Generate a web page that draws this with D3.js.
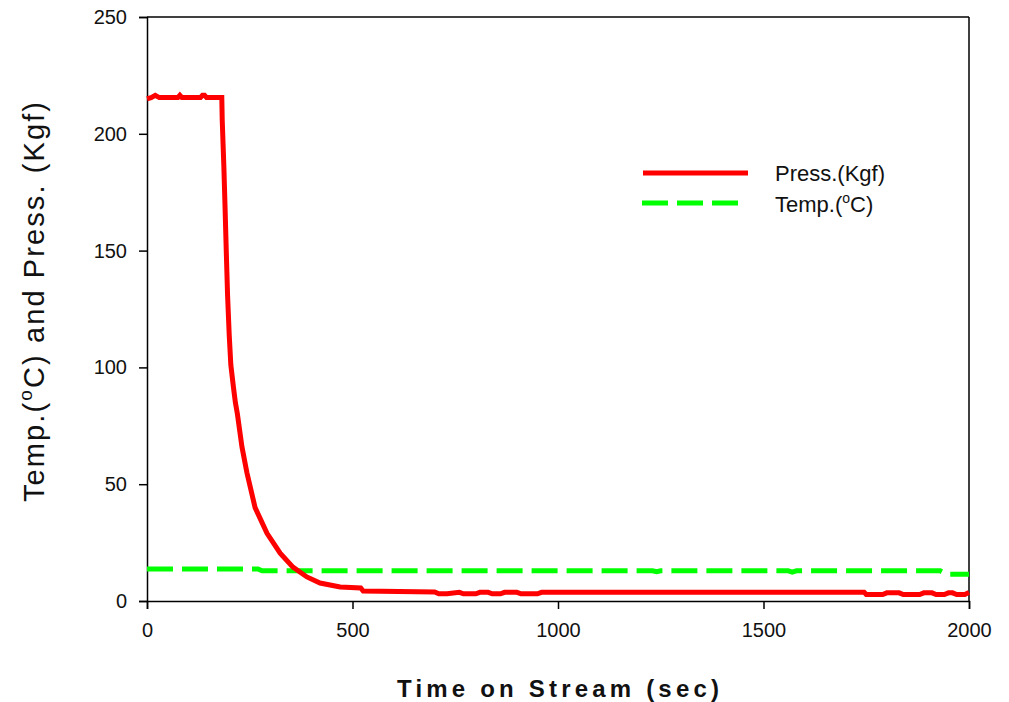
<!DOCTYPE html>
<html><head><meta charset="utf-8">
<script src="https://cdn.jsdelivr.net/npm/d3@7"></script>
<style>
html,body{margin:0;padding:0;background:#fff;}
text{font-family:"Liberation Sans",Arial,sans-serif;}
</style></head>
<body>
<svg id="chart" width="1009" height="702"></svg>
<script>
// ---- data ----
const pressTime = [0,10,20,30,60,75,80,85,130,135,140,145,180,182,183,187,190,193,196,200,204,210,215,220,231,243,263,292,324,355,389,421,470,520,526,700,
  710,730,760,770,800,810,830,840,860,870,900,910,950,960,1745,1750,1790,1800,1830,1840,1880,1890,1910,1920,1940,1950,1960,1970,1990,2000];
const pressVal = [215,215.5,216.5,215.5,215.5,215.5,216.5,215.5,215.5,216.5,216.5,215.5,215.5,215.5,206,186,168,149,131,114,101,92,85,80,66,55,40,29,20.5,14.5,10.3,7.7,6,5.6,4.3,3.9,
  3.1,3.1,3.7,3.1,3.1,3.7,3.7,3.1,3.1,3.7,3.7,3.1,3.1,3.7,3.7,2.8,2.8,3.5,3.5,2.8,2.8,3.5,3.5,2.8,2.8,3.5,3.5,2.8,2.8,3.7];
const tempTime = [0,270,280,1230,1240,1250,1560,1570,1580,1930,1945,2000];
const tempVal  = [13.7,13.7,12.9,12.9,12.5,12.9,12.9,12.4,12.9,12.9,11.5,11.5];
const xTicks = [0,500,1000,1500,2000];
const yTicks = [0,50,100,150,200,250];
const seriesNames = ["Press.(Kgf)","Temp.("];

// ---- layout ----
const svg = d3.select("#chart");
const L=147, R=969, T=17, B=601;
const x = d3.scaleLinear().domain([0,2000]).range([L,R]);
const y = d3.scaleLinear().domain([0,250]).range([B,T]);

// frame top & right
svg.append("line").attr("x1",L).attr("x2",R).attr("y1",T).attr("y2",T).attr("stroke","#000").attr("stroke-width",1.5);
svg.append("line").attr("x1",R).attr("x2",R).attr("y1",T).attr("y2",B).attr("stroke","#000").attr("stroke-width",1.5);

const xAxis = svg.append("g").attr("transform",`translate(0,${B})`)
  .call(d3.axisBottom(x).tickValues(xTicks).tickSize(8).tickPadding(14).tickFormat(d3.format("d")));
const yAxis = svg.append("g").attr("transform",`translate(${L},0)`)
  .call(d3.axisLeft(y).tickValues(yTicks).tickSize(8).tickPadding(12).tickFormat(d3.format("d")));
[xAxis,yAxis].forEach(g=>{
  g.select(".domain").attr("stroke","#000").attr("stroke-width",1.5);
  g.selectAll(".tick line").attr("stroke","#000").attr("stroke-width",1.5);
  g.selectAll(".tick text").attr("font-size",20).attr("fill","#111").attr("font-family","Liberation Sans, Arial, sans-serif");
});

// lines
const pData = pressTime.map((t,i)=>[t,pressVal[i]]);
const tData = tempTime.map((t,i)=>[t,tempVal[i]]);
const line = d3.line().x(d=>x(d[0])).y(d=>y(d[1]));
svg.append("path").datum(tData).attr("d",line).attr("fill","none")
  .attr("stroke","#00ff00").attr("stroke-width",5).attr("stroke-dasharray","26,9");
svg.append("path").datum(pData).attr("d",line).attr("fill","none")
  .attr("stroke","#ff0000").attr("stroke-width",5).attr("stroke-linejoin","miter");

// legend
const lg = svg.append("g");
lg.append("line").attr("x1",643).attr("x2",748).attr("y1",173).attr("y2",173).attr("stroke","#ff0000").attr("stroke-width",5);
lg.append("line").attr("x1",642).attr("x2",738).attr("y1",203).attr("y2",203).attr("stroke","#00ff00").attr("stroke-width",5).attr("stroke-dasharray","26,9");
lg.append("text").attr("x",775).attr("y",181).attr("font-size",22).attr("fill","#111").text(seriesNames[0]);
const t2 = lg.append("text").attr("x",775).attr("y",212).attr("font-size",22).attr("fill","#111");
t2.append("tspan").text(seriesNames[1]);
t2.append("tspan").attr("font-size",14).attr("dy",-9).text("o");
t2.append("tspan").attr("dy",9).text("C)");

// axis titles
svg.append("text").attr("x",558).attr("y",697).attr("text-anchor","middle")
  .attr("font-size",24).attr("font-weight","bold").attr("fill","#111")
  .attr("textLength",322).attr("lengthAdjust","spacing")
  .text("Time on Stream (sec)");
const yt = svg.append("text").attr("transform","translate(44,302) rotate(-90)")
  .attr("text-anchor","middle").attr("font-size",29).attr("fill","#111")
  .attr("textLength",400).attr("lengthAdjust","spacing");
yt.append("tspan").text("Temp.(");
yt.append("tspan").attr("font-size",19).attr("dy",-12).text("o");
yt.append("tspan").attr("dy",12).text("C) and Press. (Kgf)");
</script>
</body></html>
